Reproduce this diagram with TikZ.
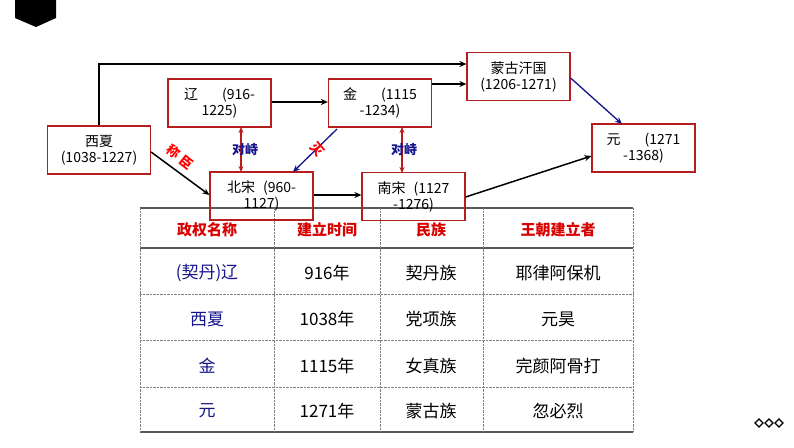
\documentclass[tikz,border=0pt]{standalone}
\usepackage{fontspec}
\setmainfont{Liberation Sans}
\newfontfamily\cjk{Noto Sans CJK SC}
\usetikzlibrary{arrows.meta}
\definecolor{bred}{RGB}{180,30,30}
\definecolor{tblue}{RGB}{20,20,140}
\tikzset{
  box/.style={draw=bred,line width=1.2pt,minimum width=103pt,minimum height=48pt,align=center,font=\cjk\fontsize{14}{16}\selectfont,inner sep=1pt},
  arr/.style={line width=1.5pt,-{Stealth[length=7pt,width=6pt]}},
  barr/.style={line width=1.3pt,draw=tblue,-{Stealth[length=7pt,width=6pt]}},
  rarr/.style={line width=1.2pt,draw=bred!90!red,{Stealth[length=6pt,width=5pt]}-{Stealth[length=6pt,width=5pt]}},
  cell/.style={font=\cjk\fontsize{17}{19}\selectfont},
  hd/.style={font=\cjk\bfseries\fontsize{15}{17}\selectfont,text=red!85!black},
  lbl/.style={font=\cjk\bfseries\fontsize{13}{14}\selectfont,inner sep=0pt}
}
\begin{document}
\begin{tikzpicture}[x=1pt,y=-1pt]
\useasboundingbox (0,0) rectangle (794,447);
\fill[white] (0,0) rectangle (794,447);
% badge
\fill (15,0) -- (56,0) -- (56,18) -- (36,27) -- (15,18) -- cycle;
% table
\draw[line width=1.2pt,gray!70!black] (140,208) -- (633,208);
\draw[line width=1.2pt,gray!70!black] (140,248) -- (633,248);
\draw[line width=1.2pt,gray!70!black] (140,432) -- (633,432);
\foreach \y in {294,340,387} \draw[densely dotted,gray] (140,\y) -- (633,\y);
\foreach \x in {140,274,380,483,633} \draw[densely dotted,gray] (\x,208) -- (\x,432);
\node[hd] (h1) at (207,230) {政权名称};
\node[hd] (h2) at (327,230) {建立时间};
\node[hd] (h3) at (431,230) {民族};
\node[hd] (h4) at (558,230) {王朝建立者};
\node[cell,text=tblue] (a1) at (207,273) {(契丹)辽};
\node[cell] (b1) at (327,273) {916年};
\node[cell] (c1) at (431,273) {契丹族};
\node[cell] (d1) at (558,273) {耶律阿保机};
\node[cell,text=tblue] (a2) at (207,319) {西夏};
\node[cell] (b2) at (327,319) {1038年};
\node[cell] (c2) at (431,319) {党项族};
\node[cell] (d2) at (558,319) {元昊};
\node[cell,text=tblue] (a3) at (207,366) {金};
\node[cell] (b3) at (327,366) {1115年};
\node[cell] (c3) at (431,366) {女真族};
\node[cell] (d3) at (558,366) {完颜阿骨打};
\node[cell,text=tblue] (a4) at (207,411) {元};
\node[cell] (b4) at (327,411) {1271年};
\node[cell] (c4) at (431,411) {蒙古族};
\node[cell] (d4) at (558,411) {忽必烈};
% boxes
\node[box] (xx) at (99,150) {西夏\\(1038-1227)};
\node[box] (liao) at (219.5,103) {辽\hspace{24pt}(916-\\1225)};
\node[box] (jin) at (380,103) {金\hspace{24pt}(1115\\-1234)};
\node[box] (mg) at (518.5,76.5) {蒙古汗国\\(1206-1271)};
\node[box] (yuan) at (643.5,148) {元\hspace{24pt}(1271\\-1368)};
\node[box] (bs) at (261.5,196) {北宋\hspace{8pt}(960-\\1127)};
\node[box] (ns) at (413.5,196.5) {南宋\hspace{8pt}(1127\\-1276)};
% connectors
\draw[arr] (xx.north) |- (mg.west |- 0,64);
\draw[arr] (jin.east |- 0,84) -- (mg.west |- 0,84);
\draw[arr] (liao.east |- 0,102) -- (jin.west |- 0,102);
\draw[arr] (xx.east |- 0,152) -- (bs.west |- 0,195);
\draw[arr] (bs.east |- 0,195) -- (ns.west |- 0,195);
\draw[arr] (ns.east |- 0,197) -- (yuan.west |- 0,156);
\draw[barr] (mg.east |- 0,78) -- (622,124);
\draw[barr] (337,129) -- (293,172);
\draw[rarr] (241,127) -- (241,172);
\draw[rarr] (402,127) -- (402,173);
\node[lbl,text=tblue] (d1l) at (245,150) {对峙};
\node[lbl,text=tblue] (d2l) at (404,150) {对峙};
\node[lbl,text=red,rotate=-38] (cc1) at (174,152) {称};
\node[lbl,text=red,rotate=-38] (cc2) at (187,163) {臣};
\node[lbl,text=red,rotate=-50] (mie) at (317,149) {灭};
% diamonds
\foreach \x in {759,769,779}
  \draw[line width=1.2pt] (\x-4,423) -- (\x,419) -- (\x+4,423) -- (\x,427) -- cycle;
\end{tikzpicture}
\end{document}
